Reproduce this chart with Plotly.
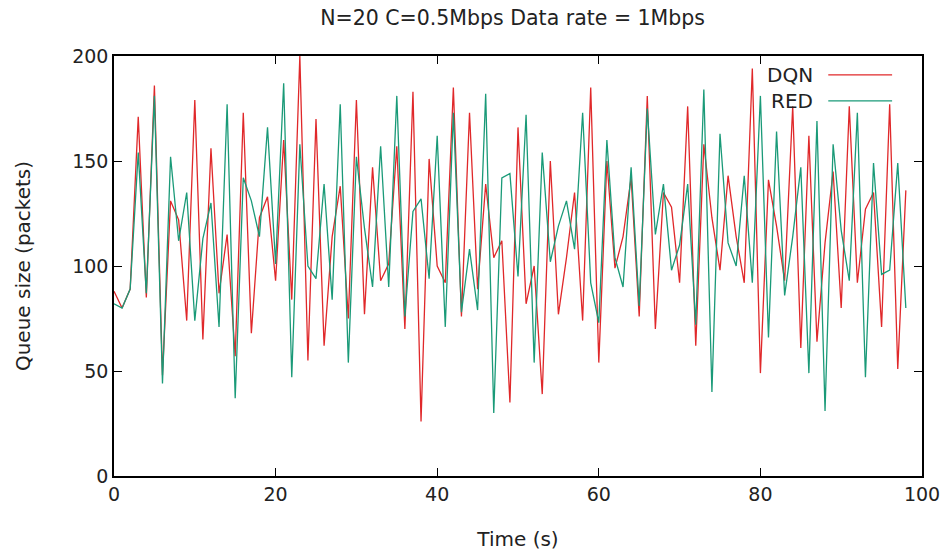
import plotly.graph_objects as go

time_s = list(range(0, 99))

dqn = [88, 80, 89, 171, 85, 186, 48, 131, 122, 74,
       179, 65, 156, 87, 115, 57, 173, 68, 123, 133,
       93, 160, 84, 200, 55, 170, 62, 114, 138, 75,
       179, 77, 147, 93, 101, 157, 70, 183, 26, 151,
       100, 92, 185, 76, 173, 89, 139, 104, 112, 35,
       166, 82, 100, 39, 150, 77, 104, 135, 74, 185,
       54, 150, 99, 114, 142, 76, 181, 70, 135, 128,
       92, 176, 62, 158, 123, 98, 143, 114, 92, 194,
       49, 141, 119, 93, 176, 61, 162, 64, 111, 145,
       80, 176, 92, 127, 135, 71, 177, 51, 136]

red = [82, 80, 89, 154, 87, 181, 44, 152, 112, 135,
       74, 113, 130, 71, 177, 37, 142, 131, 114, 166,
       101, 187, 47, 158, 100, 94, 139, 84, 177, 54,
       152, 118, 90, 157, 90, 181, 76, 126, 132, 94,
       162, 71, 173, 78, 108, 79, 182, 30, 142, 144,
       95, 172, 54, 154, 102, 119, 131, 108, 173, 92,
       73, 160, 104, 90, 147, 81, 175, 115, 139, 98,
       110, 139, 72, 184, 40, 163, 111, 100, 143, 92,
       181, 66, 164, 86, 114, 147, 49, 169, 31, 158,
       117, 93, 173, 47, 149, 96, 98, 149, 80]

x_ticks = [0, 20, 40, 60, 80, 100]
y_ticks = [0, 50, 100, 150, 200]

RED_C = "#e0282a"
GRN_C = "#1a9a78"
FONT = "DejaVu Sans"
TXT = "#222"

fig = go.Figure()
fig.add_trace(go.Scatter(x=time_s, y=dqn, mode="lines", name="DQN",
                         line=dict(color=RED_C, width=1.3), showlegend=False))
fig.add_trace(go.Scatter(x=time_s, y=red, mode="lines", name="RED",
                         line=dict(color=GRN_C, width=1.3), showlegend=False))

axis_common = dict(showgrid=False, zeroline=False, showline=True, linecolor="black",
                   linewidth=1.5, mirror="ticks", ticks="inside", ticklen=8,
                   tickcolor="black", tickwidth=1, automargin=False,
                   tickfont=dict(family=FONT, size=19, color=TXT))

fig.update_xaxes(range=[0, 100], tickvals=x_ticks,
                 title=dict(text="Time (s)", font=dict(family=FONT, size=20, color=TXT), standoff=28),
                 **axis_common)
fig.update_yaxes(range=[0, 200], tickvals=y_ticks,
                 title=dict(text="Queue size (packets)", font=dict(family=FONT, size=20, color=TXT), standoff=36),
                 **axis_common)

# legend drawn gnuplot-style: label text then line sample
leg = [("DQN", RED_C, 0.955), ("RED", GRN_C, 0.893)]
for label, col, yp in leg:
    fig.add_annotation(x=0.868, y=yp, xref="paper", yref="paper", text=label,
                       showarrow=False, xanchor="right", yanchor="middle",
                       font=dict(family=FONT, size=20, color=TXT))
    fig.add_shape(type="line", xref="paper", yref="paper", x0=0.884, x1=0.963,
                  y0=yp, y1=yp, line=dict(color=col, width=1.3))

fig.update_layout(
    width=944, height=553,
    margin=dict(l=114, r=22, t=56, b=77),
    paper_bgcolor="white", plot_bgcolor="white",
    title=dict(text="N=20 C=0.5Mbps Data rate = 1Mbps", x=0.543, xanchor="center",
               y=0.967, yanchor="middle", font=dict(family=FONT, size=20.5, color=TXT)),
)

fig.write_html("out.html", config={"displayModeBar": False},
               post_script="document.body.style.margin='0';")
